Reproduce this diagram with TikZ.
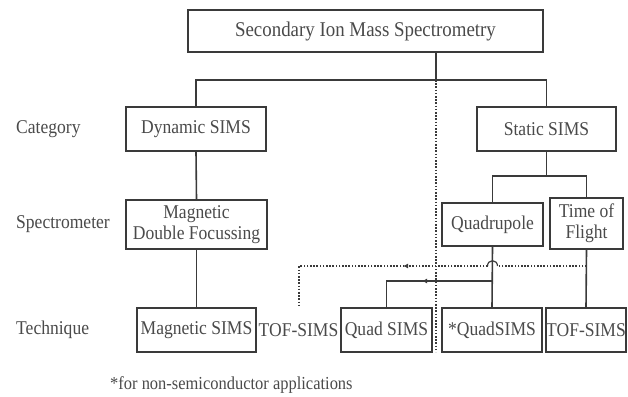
\documentclass[tikz,border=0pt]{standalone}
\usepackage{fontspec}
\setmainfont[FakeStretch=0.9]{Liberation Serif}
\usetikzlibrary{arrows.meta,decorations.markings}
\definecolor{lin}{HTML}{3A3A3A}
\definecolor{txt}{HTML}{4A4A4A}
\tikzset{
  box/.style={draw=lin, line width=1.6pt, inner sep=0pt, align=center, text=txt,
              font=\fontsize{19.5}{21}\selectfont},
  lab/.style={anchor=west, inner sep=0pt, text=txt, font=\fontsize{19.5}{21}\selectfont},
  conn/.style={draw=lin, line width=1.6pt},
  dots/.style={draw=lin, line width=1.5pt, dash pattern=on 1.6pt off 1.6pt},
  markL/.style={postaction={decorate}, decoration={markings,
      mark=at position #1 with {\arrow{Latex[length=5pt,width=5pt]}}}}
}
\begin{document}
\begin{tikzpicture}[x=1pt,y=-1pt]
\useasboundingbox (0,0) rectangle (628,396);
% nodes
\node[box, minimum width=355, minimum height=42, font=\fontsize{21}{22}\selectfont] (title) at (365.5,31) {Secondary Ion Mass Spectrometry};
\node[box, minimum width=140, minimum height=44] (dyn) at (196,129) {Dynamic SIMS};
\node[box, minimum width=139, minimum height=44] (stat) at (546.5,129) {Static SIMS};
\node[box, minimum width=141, minimum height=49] (mdf) at (196.5,224.5) {Magnetic\\Double Focussing};
\node[box, minimum width=101, minimum height=43] (quad) at (492.5,224.5) {Quadrupole};
\node[box, minimum width=73, minimum height=51] (tof) at (586.5,223.5) {Time of\\Flight};
\node[box, minimum width=119, minimum height=44] (msims) at (196.5,330) {Magnetic SIMS};
\node[lab, anchor=center] (tofl) at (298.5,330) {TOF-SIMS};
\node[box, minimum width=91, minimum height=44] (qsims) at (386.5,330) {Quad SIMS};
\node[box, minimum width=100, minimum height=44] (qsims2) at (492,330) {*QuadSIMS};
\node[box, minimum width=80, minimum height=44] (tofsims) at (586,330) {TOF-SIMS};
% row labels
\node[lab] (lcat) at (16,129) {Category};
\node[lab] (lspec) at (16,224) {Spectrometer};
\node[lab] (ltech) at (16,330) {Technique};
\node[lab, font=\fontsize{18.3}{19}\selectfont] (foot) at (110,385) {*for non-semiconductor applications};
% junction coordinates
\coordinate (j1) at (436,80);
\coordinate (j2) at (546.5,176);
\coordinate (j3) at (492.5,281);
\coordinate (d1) at (586.5,266);
\coordinate (h1) at (497.5,266);
\coordinate (h2) at (487.5,266);
\coordinate (d2) at (299,266);
\coordinate (d3) at (299,305);
\coordinate (dend) at (436,352);
% connectors
\draw[conn] (title.south -| j1) -- (j1);
\draw[conn] (dyn.north) |- (j1) -| (stat.north);
\draw[dots] (j1) -- (dend);
\draw[conn] (dyn.south) -- (mdf.north);
\draw[conn] (mdf.south) -- (msims.north);
\draw[conn] (stat.south) -- (j2);
\draw[conn] (quad.north) |- (j2) -| (tof.north);
\draw[conn] (quad.south) -- (qsims2.north);
\draw[conn, markL=70.5pt] (j3) -| (qsims.north);
\draw[conn] (tof.south) -- (tofsims.north);
\draw[dots] (d1) -- (h1);
\draw[draw=lin, line width=1.2pt] (h1) .. controls (497.5,259) and (487.5,259) .. (h2);
\draw[dots, markL=84.5pt] (h2) -- (d2) -- (d3);
\end{tikzpicture}
\end{document}
